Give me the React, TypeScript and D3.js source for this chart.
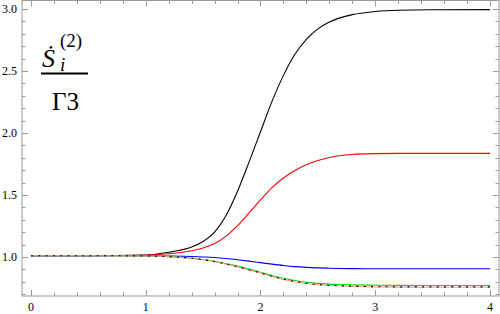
import * as d3 from 'd3';

// sample positions along t, shared by every curve
const tValues = [0, 0.5, 1.0, 1.2, 1.4, 1.5, 1.6, 1.7, 1.8, 1.9, 2.0, 2.1, 2.2, 2.3, 2.4, 2.5, 2.6, 2.8, 3.0, 3.2, 3.5, 4.0];

const blackValues = [1.01, 1.01, 1.016, 1.038, 1.08, 1.125, 1.2, 1.335, 1.53, 1.765, 2.01, 2.255, 2.465, 2.635, 2.755, 2.84, 2.895, 2.955, 2.98, 2.99, 2.994, 2.995];
const redValues = [1.01, 1.01, 1.014, 1.026, 1.05, 1.072, 1.108, 1.168, 1.252, 1.355, 1.46, 1.56, 1.637, 1.698, 1.744, 1.778, 1.803, 1.827, 1.834, 1.836, 1.836, 1.836];
const blueValues = [1.01, 1.01, 1.01, 1.008, 1.004, 1.0, 0.995, 0.987, 0.977, 0.966, 0.954, 0.942, 0.931, 0.922, 0.916, 0.912, 0.909, 0.906, 0.905, 0.905, 0.905, 0.905];
const greenValues = [1.01, 1.01, 1.008, 1.003, 0.99, 0.98, 0.966, 0.947, 0.926, 0.903, 0.877, 0.851, 0.828, 0.81, 0.796, 0.787, 0.781, 0.775, 0.772, 0.771, 0.77, 0.77];
const pinkValues = [1.01, 1.01, 1.008, 1.002, 0.988, 0.977, 0.962, 0.942, 0.92, 0.896, 0.87, 0.843, 0.819, 0.8, 0.786, 0.776, 0.77, 0.762, 0.758, 0.757, 0.756, 0.756];
const dottedValues = [1.01, 1.01, 1.008, 1.002, 0.989, 0.978, 0.963, 0.943, 0.921, 0.897, 0.871, 0.844, 0.821, 0.802, 0.788, 0.778, 0.772, 0.764, 0.76, 0.759, 0.759, 0.759];

const xMajorTicks = [0, 1, 2, 3, 4];
const yMajorTicks = [1.0, 1.5, 2.0, 2.5, 3.0];

const left = 22;
const right = 499;
const top = 0.5;
const bottom = 296;
const frameColor = '#999';
const serif = 'Times New Roman';

export default function App() {
  const x = d3.scaleLinear().domain([-0.078, 4.078]).range([left, right]);
  const y = d3.scaleLinear().domain([0.685, 3.069]).range([bottom, top]);

  const xMinor = d3.range(0, 4.001, 0.2).filter((v) => !xMajorTicks.some((m) => Math.abs(m - v) < 1e-6));
  const yMinor = d3.range(0.7, 3.06, 0.1).filter((v) => !yMajorTicks.some((m) => Math.abs(m - v) < 1e-6));

  const line = d3.line<number>()
    .x((_, i) => x(tValues[i]))
    .y((d) => y(d))
    .curve(d3.curveMonotoneX);

  const series: [string, number[], string, string | undefined][] = [
    ['black', blackValues, '#000', undefined],
    ['red', redValues, '#ff0000', undefined],
    ['blue', blueValues, '#0000ff', undefined],
    ['green', greenValues, '#00e000', undefined],
    ['pink', pinkValues, '#ff9999', undefined],
    ['dotted', dottedValues, '#000', '2,5.3'],
  ];

  // ticks on all four sides, pointing inward
  const xTick = (v: number, len: number) => {
    const px = Math.round(x(v)) + 0.5;
    return (
      <g key={'x' + v}>
        <line x1={px} x2={px} y1={bottom} y2={bottom - len} />
        <line x1={px} x2={px} y1={top} y2={top + len} />
      </g>
    );
  };
  const yTick = (v: number, len: number) => {
    const py = Math.round(y(v)) + 0.5;
    return (
      <g key={'y' + v}>
        <line x1={left} x2={left + len} y1={py} y2={py} />
        <line x1={right} x2={right - len} y1={py} y2={py} />
      </g>
    );
  };

  return (
    <svg width={500} height={314} style={{ display: 'block', position: 'absolute', left: 0, top: 0 }}>
      <rect width={500} height={314} fill="#fff" />
      <defs>
        <clipPath id="plot-clip">
          <rect x={left} y={top} width={right - left} height={bottom - top} />
        </clipPath>
      </defs>

      <g stroke={frameColor} strokeWidth={1}>
        {xMajorTicks.map((v) => xTick(v, 6))}
        {xMinor.map((v) => xTick(v, 3.5))}
        {yMajorTicks.map((v) => yTick(v, 6))}
        {yMinor.map((v) => yTick(v, 3.5))}
      </g>
      <rect x={left} y={top} width={right - left} height={bottom - top} fill="none" stroke={frameColor} />

      {xMajorTicks.map((d) => (
        <text key={'xl' + d} x={x(d)} y={311} textAnchor="middle" fontFamily={serif} fontSize={12}>{String(d)}</text>
      ))}
      {yMajorTicks.map((d) => (
        <text key={'yl' + d} x={17} y={y(d) + 4} textAnchor="end" fontFamily={serif} fontSize={12}>{d.toFixed(1)}</text>
      ))}

      <g clipPath="url(#plot-clip)" fill="none">
        {series.map(([name, vals, color, dash]) => (
          <path key={name} d={line(vals) ?? ''} stroke={color} strokeWidth={1.1} strokeDasharray={dash} />
        ))}
      </g>

      {/* axis label as a fraction */}
      <text x={42} y={67} fontFamily={serif} fontSize={26} fontStyle="italic">Ṡ</text>
      <text x={60} y={47} fontFamily={serif} fontSize={19}>(2)</text>
      <text x={60} y={71} fontFamily={serif} fontSize={19} fontStyle="italic">i</text>
      <line x1={41} x2={88} y1={73.5} y2={73.5} stroke="#000" strokeWidth={2} />
      <text x={52} y={110} fontFamily={serif} fontSize={25}>Γ3</text>
    </svg>
  );
}
